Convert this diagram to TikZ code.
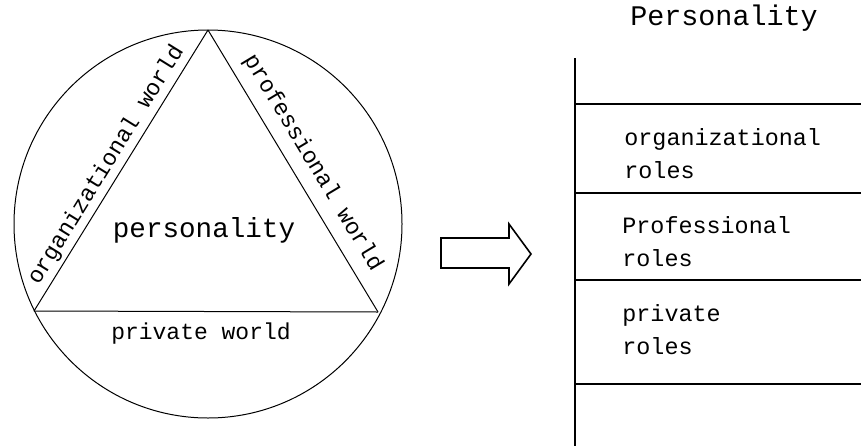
\documentclass[tikz,border=0pt]{standalone}
\usepackage{fontspec}
\newfontfamily\typew{Liberation Mono}
\usetikzlibrary{
		calc,
		positioning
	}
\tikzset{
		thin line/.style={line width=0.5pt},
		rule line/.style={line width=1pt},
		world/.style={font=\typew\fontsize{11.5}{13}\selectfont, inner sep=2pt},
		rolebox/.style={font=\typew\fontsize{11.7}{16.5}\selectfont, align=left, anchor=west, inner sep=0pt}
	}

\begin{document}
\begin{tikzpicture}[x=0.5pt, y=0.5pt] % (each unit = one pixel of the drawing)
		\useasboundingbox (0,0) rectangle (861,446);
		% the circle with the triangle
		\coordinate (c) at (208,222);
		\coordinate (top) at (208,416);
		\coordinate (bl) at (34,135);
		\coordinate (br) at (378,134);
		\draw[thin line] (c) circle (194);
		\draw[thin line] (bl) -- node[world, pos=0.49, sloped, above] (orgw) {organizational world} (top);
		\draw[thin line] (top) -- node[world, pos=0.51, sloped, above, yshift=3] (profw) {professional world} (br);
		\draw[thin line] (bl) -- (br);
		\node[font=\typew\fontsize{13.8}{16}\selectfont] (pers) at (204,216) {personality};
		\node[world] (privw) at (201,112) {private world};
		% the arrow
		\draw[line width=0.8pt] (441,178) -- (509,178) -- (509,162) -- (531,192) -- (509,222) -- (509,208) -- (441,208) -- cycle;
		% the role table
		\node[font=\typew\fontsize{14.2}{16}\selectfont] (title) at (724,428) {Personality};
		\coordinate (axtop) at (575,388);
		\coordinate (axbot) at (575,0);
		\draw[rule line] (axtop) -- (axbot);
		\foreach \y [count=\i] in {342,253,166,62}{
			\coordinate (l\i) at (575,\y);
			\coordinate (r\i) at (861,\y);
			\draw[rule line] (l\i) -- (r\i);
		}
		\node[rolebox] (orgr) at (624,292) {organizational\\roles};
		\node[rolebox] (profr) at (622,204) {Professional\\roles};
		\node[rolebox] (privr) at (622,116) {private\\roles};
	\end{tikzpicture}
\end{document}
